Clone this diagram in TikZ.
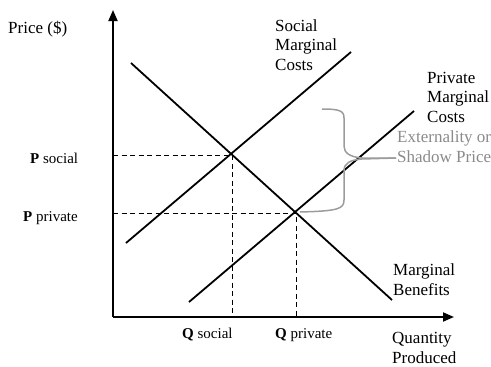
\documentclass[tikz,border=0pt]{standalone}
\usepackage{fontspec}
\setmainfont{Liberation Serif}
\usetikzlibrary{arrows.meta}
\definecolor{bracegray}{HTML}{9C9C9C}
\definecolor{labelgray}{HTML}{8A8A8A}
\begin{document}
\begin{tikzpicture}[x=1pt,y=-1pt,
  axis/.style={line width=1.8pt,-{Triangle[length=11pt,width=9pt]}},
  curve/.style={line width=1.8pt},
  guide/.style={line width=0.9pt,dashed,dash pattern=on 5pt off 3.5pt},
  lbl/.style={font=\fontsize{17}{19.5}\selectfont,align=left,inner sep=0pt},
  tick/.style={font=\fontsize{15}{17}\selectfont,inner sep=0pt},
  bracestyle/.style={bracegray,line width=1.5pt}]
\useasboundingbox (0,0) rectangle (491,367);

% axes
\coordinate (O) at (113,317);
\coordinate (ytop) at (113,10);
\coordinate (xend) at (454,317);
\draw[axis] (O) -- (ytop);
\draw[axis] (O) -- (xend);

% equilibrium points
\coordinate (Es) at (232,155);
\coordinate (Ep) at (296,213);
\coordinate (Ys) at (113,155);
\coordinate (Yp) at (113,213);
\coordinate (Xs) at (232,317);
\coordinate (Xp) at (296,317);

% guide lines
\draw[guide] (Ys) -- (Es) -- (Xs);
\draw[guide] (Yp) -- (Ep) -- (Xp);

% curves
\coordinate (mb1) at (131,63);
\coordinate (mb2) at (392,300);
\coordinate (smc1) at (126,243);
\coordinate (smc2) at (351,52);
\coordinate (pmc1) at (189,302);
\coordinate (pmc2) at (414,111);
\draw[curve] (mb1) -- (mb2);
\draw[curve] (smc1) -- (smc2);
\draw[curve] (pmc1) -- (pmc2);

% externality brace
\coordinate (bt) at (322,109);
\coordinate (bb) at (300,212);
\coordinate (btip) at (396,158);
\draw[bracestyle] (bb) .. controls (338,211) and (344,209) .. (344,200)
  -- (344,171) .. controls (344,163) and (350,160) .. (362,159) -- (btip);
\draw[bracestyle] (bt) .. controls (340,109) and (344,111) .. (344,118)
  -- (344,146) .. controls (344,153) and (350,157) .. (362,158) -- (btip);

% labels (anchored at the baseline of their last line)
\node[lbl,anchor=base west] (price) at (8,33) {Price (\$)};
\node[lbl,anchor=base west] (smc) at (275,70) {Social\\Marginal\\Costs};
\node[lbl,anchor=base west] (pmc) at (427,122) {Private\\Marginal\\Costs};
\node[lbl,anchor=base west,text=labelgray] (ext) at (397,162) {Externality or\\Shadow Price};
\node[lbl,anchor=base west] (mb) at (393,295) {Marginal\\Benefits};
\node[lbl,anchor=base west] (qty) at (392,363) {Quantity\\Produced};
\node[tick,anchor=base west] (ps) at (30,163) {\textbf{P} social};
\node[tick,anchor=base west] (pp) at (23,221) {\textbf{P} private};
\node[tick,anchor=base west] (qs) at (182,338) {\textbf{Q} social};
\node[tick,anchor=base west] (qp) at (275,338) {\textbf{Q} private};
\end{tikzpicture}
\end{document}
